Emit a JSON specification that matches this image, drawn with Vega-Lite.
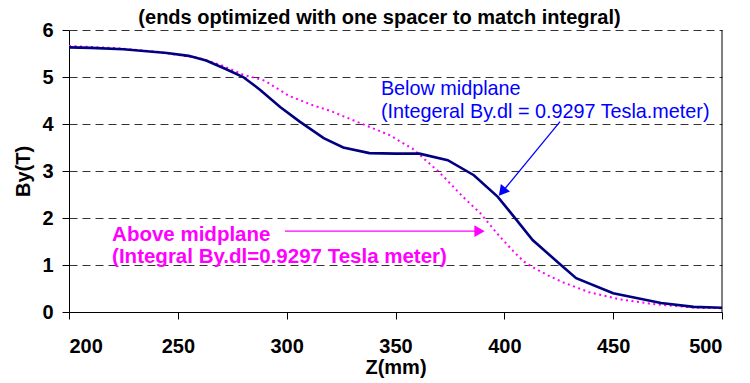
{
  "$schema": "https://vega.github.io/schema/vega-lite/v6.json",
  "autosize": "none",
  "width": 653,
  "height": 282,
  "padding": {"left": 69, "top": 30, "right": 28, "bottom": 71},
  "background": "white",
  "config": {"view": {"stroke": null}, "font": "Liberation Sans"},
  "title": {"text": "(ends optimized with one spacer to match integral)", "fontSize": 20, "fontWeight": "bold", "font": "Liberation Sans", "color": "black", "offset": -8, "dx": -16},
  "datasets": {
    "lines": [
      {"series": "Below", "z": 200, "By": 5.63}, {"series": "Below", "z": 210, "By": 5.62}, {"series": "Below", "z": 225, "By": 5.59},
      {"series": "Below", "z": 245, "By": 5.51}, {"series": "Below", "z": 255, "By": 5.45}, {"series": "Below", "z": 263, "By": 5.35},
      {"series": "Below", "z": 272, "By": 5.17}, {"series": "Below", "z": 280, "By": 5.0}, {"series": "Below", "z": 288, "By": 4.72},
      {"series": "Below", "z": 297, "By": 4.36}, {"series": "Below", "z": 306, "By": 4.05}, {"series": "Below", "z": 317, "By": 3.7},
      {"series": "Below", "z": 326, "By": 3.5}, {"series": "Below", "z": 338, "By": 3.38}, {"series": "Below", "z": 350, "By": 3.37},
      {"series": "Below", "z": 361, "By": 3.37}, {"series": "Below", "z": 374, "By": 3.23}, {"series": "Below", "z": 386, "By": 2.91},
      {"series": "Below", "z": 397, "By": 2.45}, {"series": "Below", "z": 404, "By": 2.05}, {"series": "Below", "z": 413, "By": 1.53},
      {"series": "Below", "z": 426, "By": 1.0}, {"series": "Below", "z": 433, "By": 0.72}, {"series": "Below", "z": 450, "By": 0.4},
      {"series": "Below", "z": 472, "By": 0.19}, {"series": "Below", "z": 487, "By": 0.11}, {"series": "Below", "z": 500, "By": 0.09},
      {"series": "Above", "z": 200, "By": 5.66}, {"series": "Above", "z": 220, "By": 5.62}, {"series": "Above", "z": 240, "By": 5.54},
      {"series": "Above", "z": 260, "By": 5.4}, {"series": "Above", "z": 270, "By": 5.25}, {"series": "Above", "z": 280, "By": 5.05},
      {"series": "Above", "z": 290, "By": 4.92}, {"series": "Above", "z": 301, "By": 4.6}, {"series": "Above", "z": 312, "By": 4.4},
      {"series": "Above", "z": 320, "By": 4.28}, {"series": "Above", "z": 330, "By": 4.09}, {"series": "Above", "z": 347, "By": 3.77},
      {"series": "Above", "z": 358, "By": 3.47}, {"series": "Above", "z": 370, "By": 2.98}, {"series": "Above", "z": 381, "By": 2.45},
      {"series": "Above", "z": 389, "By": 2.1}, {"series": "Above", "z": 398, "By": 1.6}, {"series": "Above", "z": 404, "By": 1.3},
      {"series": "Above", "z": 409, "By": 1.07}, {"series": "Above", "z": 414, "By": 0.93}, {"series": "Above", "z": 420, "By": 0.78},
      {"series": "Above", "z": 427, "By": 0.63}, {"series": "Above", "z": 439, "By": 0.42}, {"series": "Above", "z": 453, "By": 0.27},
      {"series": "Above", "z": 468, "By": 0.17}, {"series": "Above", "z": 488, "By": 0.09}, {"series": "Above", "z": 500, "By": 0.08}
    ],
    "blueText": [
      {"z": 343.3, "By": 4.62, "text": "Below midplane"},
      {"z": 343.3, "By": 4.12, "text": "(Integeral By.dl = 0.9297 Tesla.meter)"}
    ],
    "pinkText": [
      {"z": 219.8, "By": 1.52, "text": "Above midplane"},
      {"z": 219.8, "By": 1.05, "text": "(Integral By.dl=0.9297 Tesla meter)"}
    ],
    "arrows": [
      {"arrow": "blue", "z": 425.6, "By": 4.05, "z2": 399.5, "By2": 2.58},
      {"arrow": "pink", "z": 299.2, "By": 1.72, "z2": 388.0, "By2": 1.72}
    ],
    "heads": [
      {"arrow": "blue", "z": 399.0, "By": 2.56},
      {"arrow": "pink", "z": 388.6, "By": 1.72}
    ],
    "frame": [{"z": 500}]
  },
  "layer": [
    {
      "data": {"name": "lines"},
      "transform": [{"filter": "datum.series === 'Above'"}],
      "mark": {"type": "line", "color": "#FF00FF", "strokeWidth": 2, "strokeDash": [2, 3.5], "clip": true},
      "encoding": {
        "x": {"field": "z", "type": "quantitative", "scale": {"domain": [200, 500], "nice": false, "zero": false},
          "axis": {"values": [200, 250, 300, 350, 400, 450, 500], "title": "Z(mm)", "titleFontSize": 20, "titleFontWeight": "bold", "titleColor": "black", "titlePadding": 1,
            "labelFontSize": 20, "labelFontWeight": "bold", "labelColor": "black", "labelPadding": 17, "tickSize": 7, "tickColor": "black", "domainColor": "black", "grid": false, "labelFont": "Liberation Sans", "titleFont": "Liberation Sans"}},
        "y": {"field": "By", "type": "quantitative", "scale": {"domain": [0, 6], "nice": false},
          "axis": {"values": [0, 1, 2, 3, 4, 5, 6], "title": "By(T)", "titleFontSize": 20, "titleFontWeight": "bold", "titleColor": "black", "titlePadding": 8,
            "labelFontSize": 20, "labelFontWeight": "bold", "labelColor": "black", "labelPadding": 9, "tickSize": 7, "tickColor": "black", "domainColor": "black",
            "grid": true, "gridColor": "#333333", "gridDash": [8, 5], "gridWidth": 1, "gridOpacity": 1, "labelFont": "Liberation Sans", "titleFont": "Liberation Sans"}}
      }
    },
    {
      "data": {"name": "lines"},
      "transform": [{"filter": "datum.series === 'Below'"}],
      "mark": {"type": "line", "color": "#000080", "strokeWidth": 2.6},
      "encoding": {
        "x": {"field": "z", "type": "quantitative"},
        "y": {"field": "By", "type": "quantitative"}
      }
    },
    {
      "data": {"name": "frame"},
      "mark": {"type": "rule", "color": "black", "strokeWidth": 1},
      "encoding": {"x": {"field": "z", "type": "quantitative"}}
    },
    {
      "data": {"name": "arrows"},
      "mark": {"type": "rule", "strokeWidth": 1.3},
      "encoding": {
        "x": {"field": "z", "type": "quantitative"},
        "y": {"field": "By", "type": "quantitative"},
        "x2": {"field": "z2"},
        "y2": {"field": "By2"},
        "color": {"field": "arrow", "type": "nominal", "scale": {"domain": ["blue", "pink"], "range": ["#0000FF", "#FF00FF"]}, "legend": null}
      }
    },
    {
      "data": {"name": "heads"},
      "transform": [{"filter": "datum.arrow === 'blue'"}],
      "mark": {"type": "point", "shape": "triangle-up", "filled": true, "size": 140, "angle": 219.6, "color": "#0000FF", "opacity": 1},
      "encoding": {"x": {"field": "z", "type": "quantitative"}, "y": {"field": "By", "type": "quantitative"}}
    },
    {
      "data": {"name": "heads"},
      "transform": [{"filter": "datum.arrow === 'pink'"}],
      "mark": {"type": "point", "shape": "triangle-up", "filled": true, "size": 140, "angle": 90, "color": "#FF00FF", "opacity": 1},
      "encoding": {"x": {"field": "z", "type": "quantitative"}, "y": {"field": "By", "type": "quantitative"}}
    },
    {
      "data": {"name": "blueText"},
      "mark": {"type": "text", "align": "left", "baseline": "alphabetic", "fontSize": 19.8, "color": "#0000FF", "font": "Liberation Sans"},
      "encoding": {"x": {"field": "z", "type": "quantitative"}, "y": {"field": "By", "type": "quantitative"}, "text": {"field": "text"}}
    },
    {
      "data": {"name": "pinkText"},
      "mark": {"type": "text", "align": "left", "baseline": "alphabetic", "fontSize": 20.5, "fontWeight": "bold", "color": "#FF00FF", "font": "Liberation Sans"},
      "encoding": {"x": {"field": "z", "type": "quantitative"}, "y": {"field": "By", "type": "quantitative"}, "text": {"field": "text"}}
    }
  ]
}
